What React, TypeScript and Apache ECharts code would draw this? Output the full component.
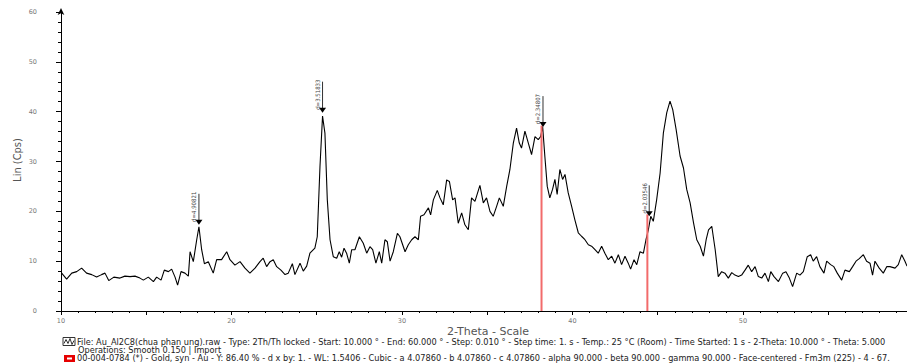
import React, { useEffect, useRef } from "react";
import * as echarts from "echarts";

const twoTheta = [
  10.04, 10.33, 10.63, 10.92, 11.21, 11.5, 11.8, 12.09, 12.38, 12.58, 12.8, 13.1, 13.46, 13.75, 14.05, 14.34, 14.63, 14.83,
  15.12, 15.42, 15.61, 15.87, 16.06, 16.3, 16.49, 16.69, 16.84, 17.04, 17.27, 17.47, 17.57, 17.76, 17.96, 18.09, 18.25,
  18.41, 18.64, 18.93, 19.13, 19.42, 19.72, 19.91, 20.2, 20.5, 20.79, 21.08, 21.38, 21.67, 21.86, 22.06, 22.26, 22.45,
  22.65, 22.9, 23.14, 23.33, 23.57, 23.72, 24.02, 24.21, 24.41, 24.6, 24.89, 25.03, 25.19, 25.34, 25.48, 25.62, 25.78,
  25.97, 26.17, 26.32, 26.46, 26.6, 26.75, 26.91, 27.05, 27.24, 27.5, 27.73, 27.93, 28.12, 28.28, 28.47, 28.67, 28.81,
  29.0, 29.14, 29.3, 29.49, 29.73, 29.88, 30.18, 30.37, 30.57, 30.76, 30.96, 31.09, 31.29, 31.55, 31.68, 31.84, 32.07,
  32.23, 32.42, 32.62, 32.78, 32.97, 33.11, 33.3, 33.5, 33.69, 33.89, 34.08, 34.28, 34.57, 34.77, 34.96, 35.16, 35.35,
  35.55, 35.71, 35.94, 36.14, 36.33, 36.53, 36.72, 36.88, 37.01, 37.21, 37.41, 37.6, 37.8, 37.99, 38.13, 38.25, 38.38,
  38.52, 38.67, 38.83, 38.97, 39.1, 39.26, 39.42, 39.56, 39.75, 39.95, 40.14, 40.34, 40.53, 40.73, 40.93, 41.12, 41.32,
  41.51, 41.71, 41.9, 42.1, 42.3, 42.49, 42.69, 42.88, 43.08, 43.27, 43.41, 43.61, 43.77, 43.96, 44.16, 44.31, 44.45,
  44.59, 44.74, 44.94, 45.14, 45.33, 45.53, 45.72, 45.88, 46.08, 46.31, 46.51, 46.7, 46.9, 47.1, 47.29, 47.49, 47.68,
  47.84, 47.98, 48.17, 48.37, 48.55, 48.75, 48.94, 49.14, 49.34, 49.53, 49.73, 49.92, 50.12, 50.31, 50.51, 50.71, 50.9,
  51.1, 51.29, 51.49, 51.63, 51.82, 52.08, 52.33, 52.52, 52.72, 52.91, 53.15, 53.34, 53.54, 53.77, 53.97, 54.12, 54.32,
  54.51, 54.75, 54.91, 55.14, 55.33, 55.53, 55.79, 55.98, 56.24, 56.43, 56.63, 56.82, 57.06, 57.25, 57.45, 57.6, 57.74,
  57.99, 58.23, 58.43, 58.62, 58.92, 59.11, 59.31, 59.5, 59.62,
];

const counts = [
  7.6, 6.4, 7.6, 7.9, 8.6, 7.6, 7.3, 6.8, 7.3, 7.6, 6.1, 6.8, 6.6, 7.0, 6.9, 7.0, 6.6, 6.2,
  6.8, 5.9, 6.8, 6.2, 8.2, 7.9, 8.4, 6.8, 5.2, 7.9, 7.6, 7.0, 11.9, 9.9, 14.3, 16.9, 12.3,
  9.5, 9.9, 7.6, 10.3, 10.3, 11.9, 10.3, 9.2, 9.9, 8.6, 7.6, 8.6, 9.9, 10.6, 8.9, 9.9, 10.3,
  8.9, 8.2, 7.3, 7.6, 9.5, 7.3, 9.6, 8.0, 9.0, 11.6, 12.6, 14.9, 29.0, 39.1, 35.7, 22.3, 14.3,
  10.9, 10.6, 11.9, 10.8, 12.6, 11.6, 9.6, 12.3, 12.3, 14.9, 13.6, 11.6, 12.9, 12.3, 9.6, 11.9, 9.6,
  14.3, 13.9, 10.0, 11.9, 15.6, 14.9, 11.9, 13.3, 14.3, 14.9, 14.3, 19.0, 19.3, 20.7, 19.3, 22.3, 24.2,
  22.7, 21.3, 26.3, 26.0, 22.3, 22.7, 17.6, 19.7, 17.3, 16.3, 22.7, 22.0, 25.2, 21.7, 22.7, 20.0, 19.0,
  21.0, 22.7, 21.0, 25.0, 28.4, 33.7, 36.7, 33.7, 32.7, 36.1, 33.7, 31.4, 35.0, 34.4, 35.0, 37.0, 31.0,
  25.0, 22.7, 24.4, 26.4, 23.4, 28.4, 26.4, 27.4, 23.7, 21.0, 18.3, 15.7, 15.0, 14.3, 13.3, 13.0, 12.3,
  11.6, 13.0, 11.6, 10.3, 11.0, 9.6, 11.3, 9.3, 11.0, 9.6, 8.4, 10.3, 9.3, 11.9, 11.6, 14.3, 16.3,
  19.0, 18.0, 22.4, 27.7, 35.7, 39.8, 42.1, 40.4, 36.4, 31.1, 28.7, 24.4, 21.7, 17.7, 14.3, 13.0, 11.0,
  14.3, 16.3, 17.0, 12.3, 6.9, 7.9, 7.6, 6.6, 7.7, 7.2, 6.9, 7.2, 8.2, 9.2, 7.9, 8.9, 6.9,
  6.6, 7.6, 5.9, 7.9, 6.9, 5.9, 7.6, 7.9, 6.6, 4.9, 7.6, 7.2, 7.9, 10.9, 11.3, 10.0, 10.9,
  8.9, 7.6, 10.0, 9.3, 8.9, 7.6, 6.2, 8.2, 7.9, 8.9, 10.0, 10.5, 11.3, 10.0, 9.6, 7.2, 10.0,
  8.6, 7.6, 8.9, 8.9, 8.6, 9.3, 11.3, 10.0, 9.0,
];

const peakTheta = [18.09, 25.34, 38.27, 44.5];
const peakCount = [17.3, 39.8, 36.9, 19.0];
const peakLabels = ["d=4.90821", "d=3.51833", "d=2.34807", "d=2.03546"];

const cardTheta = [38.184, 44.392];
const cardCount = [37.2, 19.4];

const yTicks = [0, 10, 20, 30, 40, 50, 60];
const xLabelTicks = [10, 20, 30, 40, 50];

const yTitle = "Lin (Cps)";
const xTitle = "2-Theta - Scale";
const infoLines = [
  "File: Au_Al2C8(chua phan ung).raw - Type: 2Th/Th locked - Start: 10.000 ° - End: 60.000 ° - Step: 0.010 ° - Step time: 1. s - Temp.: 25 °C (Room) - Time Started: 1 s - 2-Theta: 10.000 ° - Theta: 5.000",
  "Operations: Smooth 0.150 | Import",
  "00-004-0784 (*) - Gold, syn - Au - Y: 86.40 % - d x by: 1. - WL: 1.5406 - Cubic - a 4.07860 - b 4.07860 - c 4.07860 - alpha 90.000 - beta 90.000 - gamma 90.000 - Face-centered - Fm3m (225) - 4 - 67.",
];

export default function App() {
  const ref = useRef<HTMLDivElement>(null);
  useEffect(() => {
    if (!ref.current) return;
    const chart = echarts.init(ref.current, undefined, { renderer: "svg" });
    const infoFont = "DejaVu Sans, sans-serif";
    const infoSize = 8.2;
    chart.setOption({
      animation: false,
      backgroundColor: "#ffffff",
      grid: { left: 61, right: 0, top: 12, bottom: 52 },
      xAxis: {
        type: "value",
        min: 10,
        max: 59.62,
        interval: 5,
        axisLine: { show: true, lineStyle: { color: "#000", width: 1 } },
        axisTick: { show: true, length: 4, lineStyle: { color: "#000" } },
        minorTick: { show: true, splitNumber: 5, length: 2, lineStyle: { color: "#000" } },
        splitLine: { show: false },
        axisLabel: {
          fontSize: 6.5,
          color: "#777",
          fontFamily: infoFont,
          margin: 6,
          showMaxLabel: false,
          formatter: (v: number) => (xLabelTicks.includes(Math.round(v)) && Math.abs(v - Math.round(v)) < 1e-6 ? String(Math.round(v)) : ""),
        },
      },
      yAxis: {
        type: "value",
        min: yTicks[0],
        max: yTicks[yTicks.length - 1],
        interval: 10,
        axisLine: { show: true, lineStyle: { color: "#000", width: 1 }, symbol: ["none", "arrow"], symbolSize: [5, 7], symbolOffset: [0, 4] },
        axisTick: { show: true, length: 5, lineStyle: { color: "#000" } },
        minorTick: { show: true, splitNumber: 5, length: 3, lineStyle: { color: "#000" } },
        splitLine: { show: false },
        axisLabel: { fontSize: 6.5, color: "#777", fontFamily: infoFont, margin: 24 },
      },
      series: [
        {
          type: "line",
          data: twoTheta.map((t, i) => [t, counts[i]]),
          showSymbol: false,
          symbol: "none",
          lineStyle: { color: "#000", width: 1.1 },
          z: 2,
        },
        {
          type: "custom",
          data: cardTheta.map((t, i) => [t, cardCount[i]]),
          z: 3,
          renderItem: (params: any, api: any) => {
            const base = api.coord([api.value(0), 0]);
            const top = api.coord([api.value(0), api.value(1)]);
            return {
              type: "group",
              children: [
                { type: "line", shape: { x1: base[0], y1: base[1], x2: top[0], y2: top[1] }, style: { stroke: "#f26b6b", lineWidth: 2 } },
              ],
            };
          },
        },
        {
          type: "custom",
          data: peakTheta.map((t, i) => [t, peakCount[i]]),
          z: 4,
          renderItem: (params: any, api: any) => {
            const p = api.coord([api.value(0), api.value(1)]);
            const label = peakLabels[params.dataIndex];
            return {
              type: "group",
              children: [
                { type: "line", shape: { x1: p[0], y1: p[1] - 4, x2: p[0], y2: p[1] - 31 }, style: { stroke: "#333", lineWidth: 1 } },
                { type: "polygon", shape: { points: [[p[0] - 3.5, p[1] - 5], [p[0] + 3.5, p[1] - 5], [p[0], p[1]]] }, style: { fill: "#000" } },
                {
                  type: "text",
                  x: p[0] - 5,
                  y: p[1] - 18,
                  rotation: Math.PI / 2,
                  style: { text: label, fill: "#444", fontSize: 6, fontFamily: "Liberation Sans Narrow, DejaVu Sans Condensed, sans-serif", align: "center", verticalAlign: "middle" },
                },
              ],
            };
          },
        },
      ],
      graphic: [
        {
          type: "text",
          x: 17,
          y: 160,
          rotation: Math.PI / 2,
          style: { text: yTitle, fill: "#555", fontSize: 11, fontFamily: "Liberation Sans Narrow, DejaVu Sans Condensed, sans-serif", align: "center", verticalAlign: "middle" },
        },
        {
          type: "text",
          x: 488,
          y: 331,
          style: { text: xTitle, fill: "#555", fontSize: 11, fontFamily: infoFont, align: "center", verticalAlign: "middle" },
        },
        { type: "rect", shape: { x: 63, y: 337.5, width: 12, height: 8 }, style: { fill: "#fff", stroke: "#333", lineWidth: 1 } },
        { type: "polyline", shape: { points: [[64, 343.5], [66, 339.5], [68, 343.5], [70, 338.5], [72, 344.5], [74, 340.5]] }, style: { stroke: "#333", lineWidth: 1, fill: "none" } },
        { type: "rect", shape: { x: 64, y: 355, width: 11, height: 7 }, style: { fill: "#e60000" } },
        { type: "rect", shape: { x: 67, y: 357.5, width: 5, height: 2 }, style: { fill: "#fff" } },
        { type: "text", x: 77, y: 341.5, style: { text: infoLines[0], fill: "#222", fontSize: infoSize, fontFamily: infoFont, align: "left", verticalAlign: "middle" } },
        { type: "text", x: 78, y: 350, style: { text: infoLines[1], fill: "#222", fontSize: infoSize, fontFamily: infoFont, align: "left", verticalAlign: "middle" } },
        { type: "text", x: 77, y: 358.3, style: { text: infoLines[2], fill: "#222", fontSize: infoSize, fontFamily: infoFont, align: "left", verticalAlign: "middle" } },
      ],
    });
    return () => chart.dispose();
  }, []);
  return <div ref={ref} style={{ position: "fixed", left: 0, top: 0, width: 907, height: 363, background: "#fff" }} />;
}
